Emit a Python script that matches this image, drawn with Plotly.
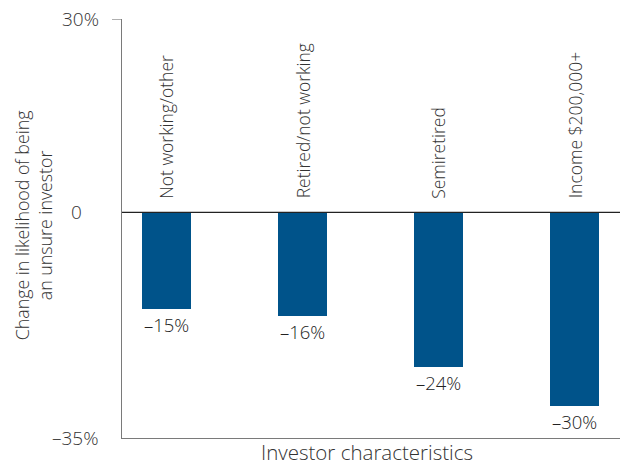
import plotly.graph_objects as go

categories = ["Not working/other", "Retired/not working", "Semiretired", "Income $200,000+"]
values = [-15, -16, -24, -30]
value_labels = ["\u201315%", "\u201316%", "\u201324%", "\u201330%"]
tick_values = [30, 0, -35]
tick_labels = ["30%", "0", "\u201335%"]

BAR = "#00538a"
TEXT = "#333333"
AXIS = "#7a7a7a"
FONT = "Open Sans"
WEIGHT = 300

W, H = 620, 465
L, R, T, B = 122, 0, 19, 27
plot_w = W - L - R
plot_h = H - T - B

x_pos = list(range(len(categories)))

fig = go.Figure(
    go.Bar(
        x=x_pos,
        y=values,
        width=0.36,
        marker=dict(color=BAR, line=dict(width=0)),
        hoverinfo="skip",
    )
)


def font(size, color=TEXT):
    return dict(family=FONT, size=size, color=color, weight=WEIGHT)


annotations = []

# category names, rotated, sitting above the zero line
for xi, name in zip(x_pos, categories):
    annotations.append(dict(
        x=xi, y=0, xref="x", yref="y", text=name, textangle=-90,
        showarrow=False, xanchor="center", yanchor="bottom", yshift=12,
        font=font(17.5),
    ))

# value labels under each bar
for xi, v, lab in zip(x_pos, values, value_labels):
    annotations.append(dict(
        x=xi, y=v, xref="x", yref="y", text=lab, showarrow=False,
        xanchor="center", yanchor="top", yshift=-1,
        font=font(18.5, "#222222"),
    ))

# y tick labels
tick_right_px = [101, 84, 101]
for tv, tl, px in zip(tick_values, tick_labels, tick_right_px):
    annotations.append(dict(
        x=(px - L) / plot_w, y=tv, xref="paper", yref="y", text=tl,
        showarrow=False, xanchor="right", yanchor="middle",
        font=font(19),
    ))

# axis titles
annotations.append(dict(
    x=(33 - L) / plot_w, y=-2, xref="paper", yref="y",
    text="Change in likelihood of being<br>an unsure investor",
    textangle=-90, showarrow=False, xanchor="center", yanchor="middle",
    font=font(17.8),
))
annotations.append(dict(
    x=(367 - L) / plot_w, y=-(452 - (H - B)) / plot_h, xref="paper", yref="paper",
    text="Investor characteristics", showarrow=False,
    xanchor="center", yanchor="middle",
    font=font(20.5),
))

shapes = [
    # zero line
    dict(type="line", xref="paper", yref="y", x0=0, x1=1, y0=0, y1=0,
         line=dict(color="#222222", width=1.2)),
    # tick mark at the top value
    dict(type="line", xref="paper", yref="y", x0=-10 / plot_w, x1=0, y0=30, y1=30,
         line=dict(color=AXIS, width=1.2)),
]

fig.update_layout(
    width=W, height=H,
    margin=dict(l=L, r=R, t=T, b=B),
    paper_bgcolor="white", plot_bgcolor="white",
    showlegend=False,
    bargap=0,
    xaxis=dict(
        range=[-0.327, 3.335], showticklabels=False, ticks="",
        showgrid=False, zeroline=False,
        showline=True, linecolor=AXIS, linewidth=1.2,
    ),
    yaxis=dict(
        range=[-35, 30], showticklabels=False, ticks="",
        showgrid=False, zeroline=False,
        showline=True, linecolor=AXIS, linewidth=1.2,
    ),
    annotations=annotations,
    shapes=shapes,
)

fig.write_html("out.html")
